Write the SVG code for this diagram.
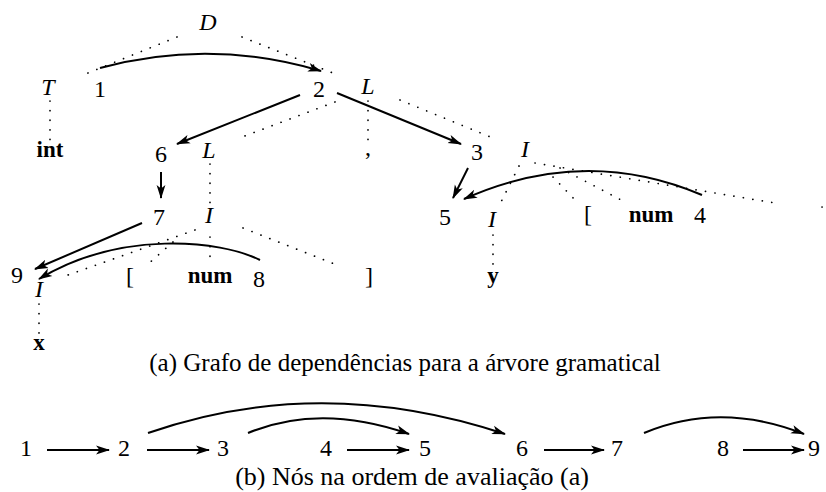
<svg xmlns="http://www.w3.org/2000/svg" width="826" height="492" viewBox="0 0 826 492">
<style>
text{font-family:"Liberation Serif","Times New Roman",serif;fill:#000;text-anchor:middle}
.n{font-size:24px}
.it{font-size:24px;font-style:italic}
.b{font-size:23px;font-weight:bold}
.capa{font-size:25px}
.capb{font-size:26px}
.dot{fill:none;stroke:#000;stroke-width:1.7;stroke-linecap:round;stroke-dasharray:0.1 9.5}
.arr{fill:none;stroke:#000;stroke-width:2;marker-end:url(#ah)}
</style>
<defs>
<marker id="ah" markerUnits="userSpaceOnUse" viewBox="0 0 14 10" markerWidth="14" markerHeight="10" refX="13" refY="5" orient="auto">
<path d="M0,0.6 L14,5 L0,9.4 L3.5,5 z" fill="#000"/>
</marker>
</defs>
<rect width="826" height="492" fill="#fff"/>

<g id="connectors">
<g id="tree-edges">
<path class="dot" d="M177,37 L83,75"/>
<path class="dot" d="M242,37 L333,73"/>
<path class="dot" d="M50,101 L50,140"/>
<path class="dot" d="M335,102 L242,137"/>
<path class="dot" d="M368,101 L368,140"/>
<path class="dot" d="M400,100 L493,138"/>
<path class="dot" d="M210,164 L210,203"/>
<path class="dot" d="M519,166 L498,208"/>
<path class="dot" d="M553,177 L577,202"/>
<path class="dot" d="M560,168 L625,202"/>
<path class="dot" d="M535,163 L775,203"/>
<path class="dot" d="M822,207 L822.1,207"/>
<path class="dot" d="M195,230 L68,275"/>
<path class="dot" d="M173,242 L147,265"/>
<path class="dot" d="M210,237 L210,258"/>
<path class="dot" d="M243,228 L337,265"/>
<path class="dot" d="M493,235 L493,266"/>
<path class="dot" d="M39,304 L39,333"/>
</g>
<g id="dependencies">
<path class="arr" d="M100,68 Q210,38 321,71"/>
<path class="arr" d="M300,95 L177,144"/>
<path class="arr" d="M337,93 L461,144"/>
<path class="arr" d="M161,172 L161,198"/>
<path class="arr" d="M468,168 L453,198"/>
<path class="arr" d="M702,195 Q585,145 464,199"/>
<path class="arr" d="M142,223 L35,269"/>
<path class="arr" d="M260,260 C220,240 120,230 39,279"/>
</g>
<g id="order-arrows">
<path class="arr" d="M47,450 L109,450"/>
<path class="arr" d="M147,450 L209,450"/>
<path class="arr" d="M347,450 L409,450"/>
<path class="arr" d="M544,450 L604,450"/>
<path class="arr" d="M743,450 L804,450"/>
<path class="arr" d="M148,433 Q320,373 505,434"/>
<path class="arr" d="M248,433 Q320,403 409,434"/>
<path class="arr" d="M644,433 Q720,401 804,434"/>
</g>
</g>

<g id="tree-nodes">
<g id="node-D"><text class="it" x="208" y="30">D</text></g>
<g id="node-T"><text class="it" x="48" y="95">T</text></g>
<g id="attr-1"><text class="n" x="100" y="97">1</text></g>
<g id="attr-2"><text class="n" x="319" y="97">2</text></g>
<g id="node-L1"><text class="it" x="368" y="94">L</text></g>
<g id="leaf-int"><text class="b" x="50" y="157">int</text></g>
<g id="attr-6"><text class="n" x="161" y="162">6</text></g>
<g id="node-L2"><text class="it" x="209" y="158">L</text></g>
<g id="leaf-comma"><text class="n" x="368" y="155">,</text></g>
<g id="attr-3"><text class="n" x="477" y="160">3</text></g>
<g id="node-I1"><text class="it" x="525" y="157">I</text></g>
<g id="attr-7"><text class="n" x="159" y="225">7</text></g>
<g id="node-I2"><text class="it" x="209" y="223">I</text></g>
<g id="attr-5"><text class="n" x="445" y="225">5</text></g>
<g id="node-I3"><text class="it" x="492" y="227">I</text></g>
<g id="leaf-lb1"><text class="n" x="588" y="222">[</text></g>
<g id="leaf-num1"><text class="b" x="651" y="222">num</text></g>
<g id="attr-4"><text class="n" x="700" y="223">4</text></g>
<g id="attr-9"><text class="n" x="17" y="283">9</text></g>
<g id="leaf-lb2"><text class="n" x="130" y="284">[</text></g>
<g id="leaf-num2"><text class="b" x="210" y="283">num</text></g>
<g id="attr-8"><text class="n" x="259" y="287">8</text></g>
<g id="leaf-rb2"><text class="n" x="369" y="284">]</text></g>
<g id="node-I4"><text class="it" x="39" y="297">I</text></g>
<g id="leaf-y"><text class="b" x="493" y="283">y</text></g>
<g id="leaf-x"><text class="b" x="39" y="350">x</text></g>
</g>
<g id="caption-a"><text class="capa" x="405" y="371">(a) Grafo de dependências para a árvore gramatical</text></g>

<g id="order-nodes">
<g id="o1"><text class="n" x="26" y="456">1</text></g>
<g id="o2"><text class="n" x="124" y="456">2</text></g>
<g id="o3"><text class="n" x="223" y="456">3</text></g>
<g id="o4"><text class="n" x="326" y="456">4</text></g>
<g id="o5"><text class="n" x="425" y="456">5</text></g>
<g id="o6"><text class="n" x="522" y="456">6</text></g>
<g id="o7"><text class="n" x="617" y="456">7</text></g>
<g id="o8"><text class="n" x="723" y="456">8</text></g>
<g id="o9"><text class="n" x="814" y="456">9</text></g>
</g>
<g id="caption-b"><text class="capb" x="412" y="485">(b) Nós na ordem de avaliação (a)</text></g>
</svg>
